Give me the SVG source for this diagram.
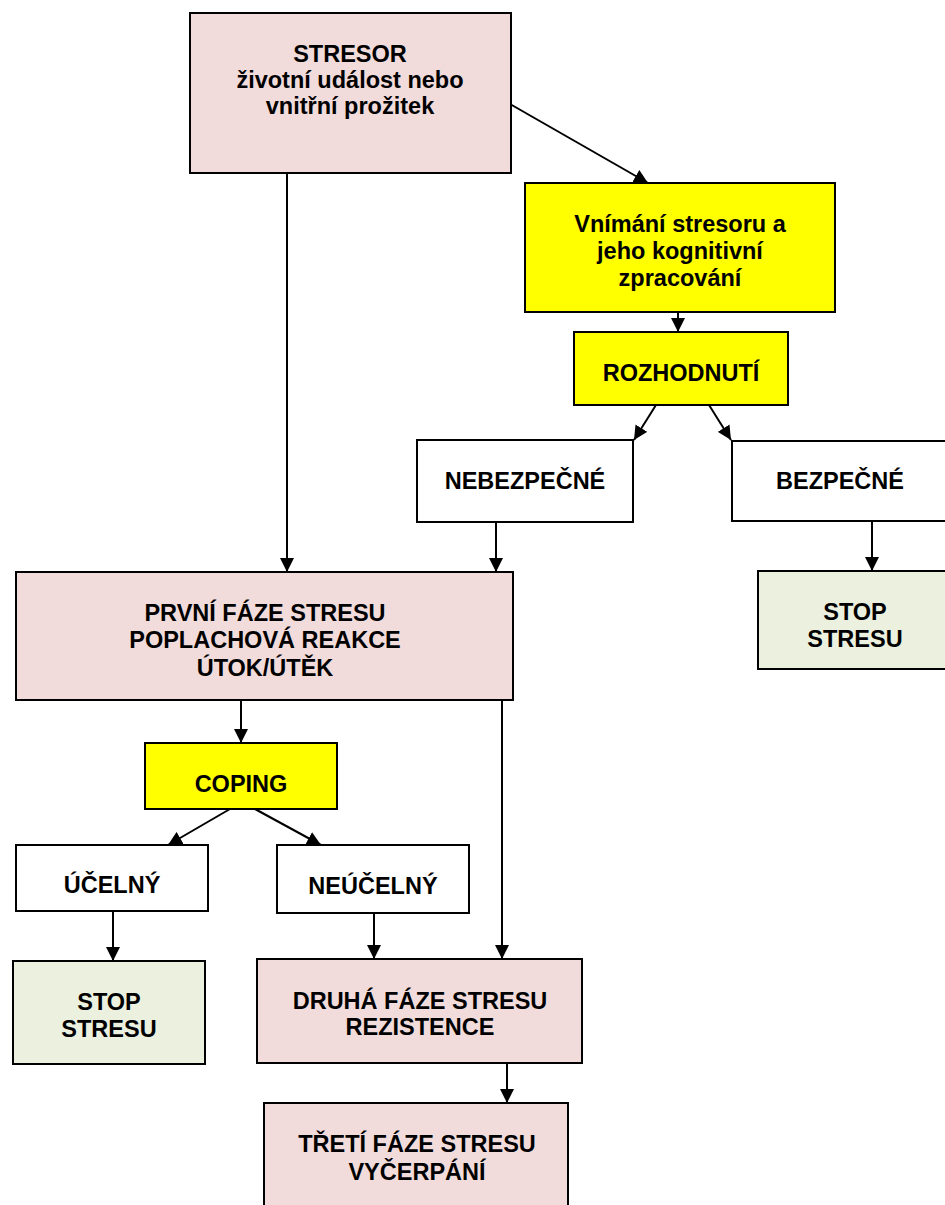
<svg xmlns="http://www.w3.org/2000/svg" width="945" height="1205" viewBox="0 0 945 1205">
  <defs>
    <marker id="arrow" viewBox="0 0 14 14" refX="14" refY="7" markerWidth="14" markerHeight="14" markerUnits="userSpaceOnUse" orient="auto">
      <path d="M0,0 L14,7 L0,14 Z" fill="#000"/>
    </marker>
  </defs>
  <style>
    .node rect { stroke: #000; stroke-width: 2; }
    .pink { fill: #F2DCDB; }
    .yellow { fill: #FFFF00; }
    .green { fill: #EBF1DE; }
    .white { fill: #FFFFFF; }
    text { font-family: "Liberation Sans", Arial, sans-serif; font-weight: bold; font-size: 23.5px; text-anchor: middle; fill: #000; }
    #connectors line { stroke: #000; stroke-width: 2; }
    #connectors line.arr { marker-end: url(#arrow); }
  </style>
  <rect width="945" height="1205" fill="#fff"/>

  <g id="connectors">
    <line class="arr" x1="287" y1="173" x2="287" y2="572"/>
    <line class="arr" x1="510" y1="104" x2="648" y2="183"/>
    <line class="arr" x1="678" y1="312" x2="678" y2="332"/>
    <line class="arr" x1="656" y1="405" x2="634" y2="440"/>
    <line class="arr" x1="709" y1="405" x2="731" y2="440"/>
    <line class="arr" x1="496" y1="522" x2="496" y2="572"/>
    <line class="arr" x1="872" y1="521" x2="872" y2="571"/>
    <line class="arr" x1="241" y1="700" x2="241" y2="743"/>
    <line x1="502" y1="700" x2="502" y2="945"/>
    <line class="arr" x1="502" y1="940" x2="502" y2="959"/>
    <line class="arr" x1="230" y1="809" x2="168" y2="845"/>
    <line class="arr" x1="255" y1="809" x2="321" y2="845"/>
    <line class="arr" x1="113" y1="911" x2="113" y2="961"/>
    <line class="arr" x1="374" y1="913" x2="374" y2="959"/>
    <line class="arr" x1="507" y1="1063" x2="507" y2="1103"/>
  </g>

  <g id="stresor" class="node">
    <rect class="pink" x="190" y="13" width="321" height="160"/>
    <text x="350" y="62">STRESOR</text>
    <text x="350" y="88">životní událost nebo</text>
    <text x="350" y="114">vnitřní prožitek</text>
  </g>

  <g id="vnimani" class="node">
    <rect class="yellow" x="525" y="183" width="310" height="129"/>
    <text x="680" y="232">Vnímání stresoru a</text>
    <text x="680" y="259">jeho kognitivní</text>
    <text x="680" y="286">zpracování</text>
  </g>

  <g id="rozhodnuti" class="node">
    <rect class="yellow" x="574" y="332" width="214" height="73"/>
    <text x="681" y="381">ROZHODNUTÍ</text>
  </g>

  <g id="nebezpecne" class="node">
    <rect class="white" x="417" y="440" width="216" height="82"/>
    <text x="525" y="489">NEBEZPEČNÉ</text>
  </g>

  <g id="bezpecne" class="node">
    <rect class="white" x="732" y="441" width="216" height="80"/>
    <text x="840" y="489">BEZPEČNÉ</text>
  </g>

  <g id="stop-right" class="node">
    <rect class="green" x="758" y="571" width="194" height="98"/>
    <text x="855" y="620">STOP</text>
    <text x="855" y="647">STRESU</text>
  </g>

  <g id="prvni-faze" class="node">
    <rect class="pink" x="16" y="572" width="497" height="128"/>
    <text x="265" y="621">PRVNÍ FÁZE STRESU</text>
    <text x="265" y="648">POPLACHOVÁ REAKCE</text>
    <text x="265" y="676">ÚTOK/ÚTĚK</text>
  </g>

  <g id="coping" class="node">
    <rect class="yellow" x="145" y="743" width="192" height="66"/>
    <text x="241" y="792">COPING</text>
  </g>

  <g id="ucelny" class="node">
    <rect class="white" x="16" y="845" width="192" height="66"/>
    <text x="112" y="893">ÚČELNÝ</text>
  </g>

  <g id="neucelny" class="node">
    <rect class="white" x="277" y="845" width="192" height="68"/>
    <text x="373" y="894">NEÚČELNÝ</text>
  </g>

  <g id="stop-left" class="node">
    <rect class="green" x="13" y="961" width="192" height="103"/>
    <text x="109" y="1010">STOP</text>
    <text x="109" y="1037">STRESU</text>
  </g>

  <g id="druha-faze" class="node">
    <rect class="pink" x="257" y="959" width="325" height="104"/>
    <text x="420" y="1009">DRUHÁ FÁZE STRESU</text>
    <text x="420" y="1035">REZISTENCE</text>
  </g>

  <g id="treti-faze" class="node">
    <rect class="pink" x="264" y="1103" width="304" height="120"/>
    <text x="417" y="1152">TŘETÍ FÁZE STRESU</text>
    <text x="417" y="1180">VYČERPÁNÍ</text>
  </g>
</svg>
